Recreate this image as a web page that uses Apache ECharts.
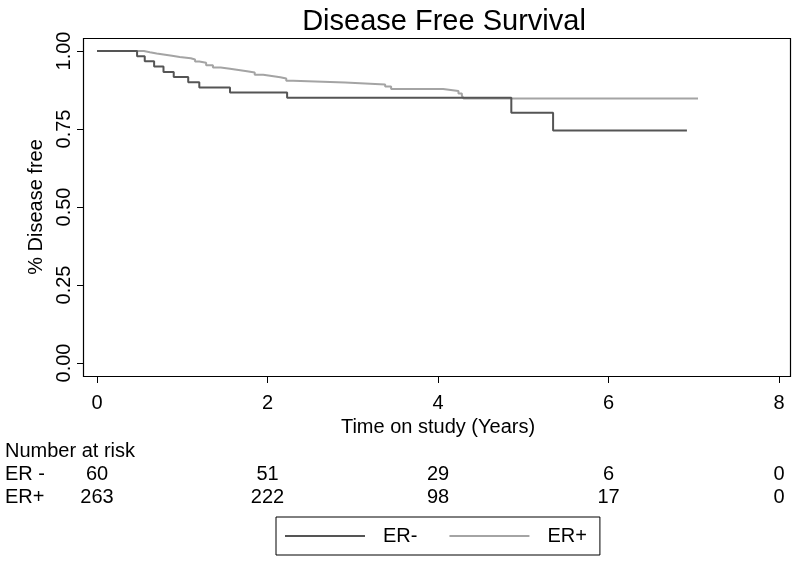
<!DOCTYPE html>
<html>
<head>
<meta charset="utf-8">
<script src="https://cdn.jsdelivr.net/npm/echarts@6/dist/echarts.min.js"></script>
<style>html,body{margin:0;padding:0;background:#fff}#c{width:800px;height:564px}</style>
</head>
<body>
<div id="c"></div>
<script>
// Kaplan-Meier step data [time (years), survival]
var erNeg = [[0,1],[0.47,0.983],[0.56,0.967],[0.67,0.950],[0.78,0.933],[0.90,0.917],[1.07,0.900],[1.20,0.883],[1.56,0.867],[2.23,0.850],[4.86,0.802],[5.35,0.745],[6.92,0.745]];
var erPos = [[0,1],[0.55,0.996],[0.62,0.992],[0.70,0.989],[0.78,0.985],[0.88,0.981],[0.97,0.977],[1.10,0.973],[1.15,0.966],[1.20,0.962],[1.28,0.954],[1.36,0.947],[1.45,0.943],[1.56,0.939],[1.66,0.935],[1.76,0.931],[1.85,0.924],[1.95,0.920],[2.05,0.916],[2.15,0.912],[2.22,0.905],[2.30,0.899],[2.91,0.893],[3.38,0.886],[3.45,0.878],[4.06,0.872],[4.24,0.864],[4.28,0.857],[4.30,0.848],[7.05,0.848]];
var riskTimes = [0, 2, 4, 6, 8];
var riskNeg = [60, 51, 29, 6, 0];
var riskPos = [263, 222, 98, 17, 0];
var groupNames = ['ER-', 'ER+'];
var rowLabels = ['ER -', 'ER+'];

var FONT = 'Liberation Sans, Arial, sans-serif';
var chart = echarts.init(document.getElementById('c'), null, {renderer: 'canvas'});
var option = {
  animation: false,
  backgroundColor: '#fff',
  title: {
    text: 'Disease Free Survival', left: 439, top: 2, textAlign: 'center',
    textStyle: {fontFamily: FONT, fontSize: 29, fontWeight: 'normal', color: '#000'}
  },
  grid: {left: 97, right: 21, top: 51, bottom: 201, containLabel: false},
  xAxis: {
    type: 'value', min: 0, max: 8, interval: 2, offset: 14,
    axisLine: {show: false, onZero: false},
    axisTick: {show: true, length: 6, lineStyle: {color: '#000', width: 1}},
    splitLine: {show: false},
    axisLabel: {margin: 16, fontFamily: FONT, fontSize: 20, color: '#000'},
    name: 'Time on study (Years)', nameLocation: 'middle', nameGap: 37,
    nameTextStyle: {fontFamily: FONT, fontSize: 20, color: '#000'}
  },
  yAxis: {
    type: 'value', min: 0, max: 1, interval: 0.25, offset: 14,
    axisLine: {show: false, onZero: false},
    axisTick: {show: true, length: 6, lineStyle: {color: '#000', width: 1}},
    splitLine: {show: false},
    axisLabel: {rotate: 90, margin: 9, fontFamily: FONT, fontSize: 20, color: '#000',
      formatter: function (v) { return v.toFixed(2); }},
    name: '% Disease free', nameLocation: 'middle', nameRotate: 90, nameGap: 36,
    nameTextStyle: {fontFamily: FONT, fontSize: 20, color: '#000'}
  },
  legend: {
    left: 276, top: 517, orient: 'horizontal',
    padding: [9, 13, 9, 9], itemGap: 32, itemWidth: 80, itemHeight: 2,
    icon: 'rect',
    borderColor: '#000', borderWidth: 1,
    textStyle: {fontFamily: FONT, fontSize: 20, color: '#000', padding: [0, 0, 0, 13]},
    data: groupNames
  },
  series: [
    {name: groupNames[0], type: 'line', step: 'end', symbol: 'none', data: erNeg,
      lineStyle: {color: '#555555', width: 2}, itemStyle: {color: '#555555'}, z: 3},
    {name: groupNames[1], type: 'line', step: 'end', symbol: 'none', data: erPos,
      lineStyle: {color: '#a4a4a4', width: 2}, itemStyle: {color: '#a4a4a4'}, z: 2}
  ]
};
chart.setOption(option);

// frame around plot region and number-at-risk table
var g = [];
g.push({type: 'rect', shape: {x: 83.5, y: 38.5, width: 707, height: 338}, style: {fill: 'none', stroke: '#000', lineWidth: 1.2}, silent: true, z: 10});
g.push({type: 'text', left: 5, top: 441, style: {text: 'Number at risk', font: '20px ' + FONT, fill: '#000'}});
var rows = [riskNeg, riskPos];
var rowY = [474, 497];
for (var r = 0; r < 2; r++) {
  g.push({type: 'text', x: 5, y: rowY[r], style: {text: rowLabels[r], font: '20px ' + FONT, fill: '#000', textVerticalAlign: 'middle', textAlign: 'left'}});
  for (var i = 0; i < riskTimes.length; i++) {
    var px = chart.convertToPixel({xAxisIndex: 0}, riskTimes[i]);
    g.push({type: 'text', x: px, y: rowY[r], style: {text: String(rows[r][i]), font: '20px ' + FONT, fill: '#000', textAlign: 'center', textVerticalAlign: 'middle'}});
  }
}
chart.setOption({graphic: g});
</script>
</body>
</html>
